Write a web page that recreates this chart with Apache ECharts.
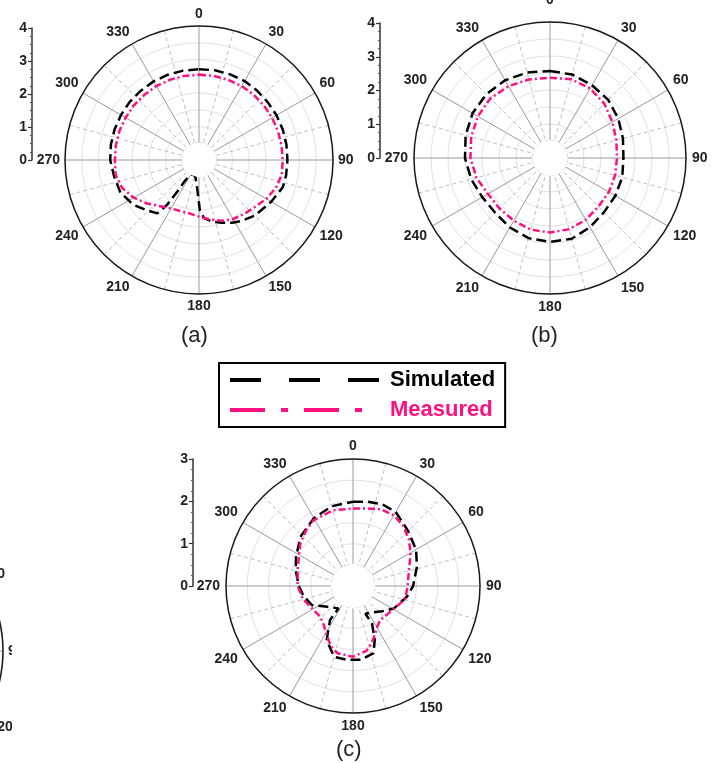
<!DOCTYPE html>
<html>
<head>
<meta charset="utf-8">
<script src="https://cdn.jsdelivr.net/npm/echarts@6/dist/echarts.min.js"></script>
<style>
  html, body { margin: 0; padding: 0; background: #fff; }
  #chart { width: 717px; height: 763px; }
</style>
</head>
<body>
<div id="chart"></div>
<script>
// ---- Radiation patterns (radius value, angle in degrees) ----
// Panel (a)
const simA_angle = [0,10,20,30,40,50,60,70,80,90,100,108,120,135,145,152,160,168,175,179,186,192,202,211,214,214.5,215.5,218,226,236,248,259,270,280,290,300,310,320,330,340,350,360];
const simA_value = [2.71,2.72,2.72,2.72,2.70,2.68,2.67,2.66,2.65,2.64,2.64,2.63,2.49,2.35,2.22,2.12,1.99,1.88,1.74,1.50,0.70,0.52,0.46,0.52,0.75,1.13,1.65,2.02,2.16,2.38,2.54,2.58,2.65,2.67,2.68,2.69,2.70,2.70,2.71,2.71,2.71,2.71];
const meaA_angle = [0,10,20,30,40,50,60,70,80,90,100,110,120,130,140,150,160,170,180,190,200,210,220,230,240,250,260,270,280,290,300,310,320,330,340,350,360];
const meaA_value = [2.55,2.55,2.55,2.55,2.54,2.53,2.52,2.51,2.50,2.50,2.51,2.44,2.32,2.18,2.10,2.04,1.93,1.80,1.69,1.62,1.62,1.67,1.80,2.02,2.25,2.44,2.53,2.51,2.52,2.53,2.53,2.54,2.54,2.55,2.55,2.55,2.55];

// Panel (b)
const simB_angle = [0,15,30,45,60,75,90,105,120,135,150,165,180,195,210,225,240,255,270,285,300,315,330,345,360];
const simB_value = [2.56,2.54,2.47,2.42,2.32,2.22,2.16,2.20,2.22,2.25,2.35,2.46,2.47,2.44,2.36,2.28,2.30,2.40,2.50,2.57,2.63,2.65,2.64,2.60,2.56];
const meaB_angle = [0,15,30,45,60,75,90,105,120,135,150,165,180,195,210,225,240,255,270,285,300,315,330,345,360];
const meaB_value = [2.36,2.40,2.36,2.26,2.12,2.02,1.97,1.98,2.00,2.02,2.10,2.17,2.19,2.18,2.13,2.10,2.11,2.24,2.34,2.40,2.45,2.48,2.44,2.39,2.36];

// Panel (c)
const simC_angle = [0,10,20,30,45,60,73,90,101,119,131,144,156,153,158,163,174,185,195,206,214,213,231,245,258,270,285,297,313,330,345,360];
const simC_value = [1.99,2.02,2.05,2.02,1.84,1.72,1.58,1.42,1.30,1.10,0.91,0.77,0.72,0.99,1.37,1.66,1.75,1.75,1.73,1.42,0.97,0.63,0.78,1.07,1.19,1.28,1.40,1.51,1.70,1.85,1.95,1.99];
const meaC_angle = [0,10,20,30,40,50,60,70,80,90,103,111,119,130,141,148,155,162,168,180,193,200,207,217,227,239,255,270,289,300,309,320,329,345,360];
const meaC_value = [1.83,1.86,1.93,1.93,1.85,1.72,1.57,1.42,1.33,1.29,1.27,1.18,1.10,1.05,1.03,1.10,1.24,1.42,1.56,1.67,1.63,1.52,1.34,1.15,1.06,1.09,1.22,1.31,1.38,1.47,1.60,1.72,1.81,1.85,1.83];

// Radial scale maxima of each panel
const radialMax = [4, 4, 3, 4];

const FONT = "'Liberation Sans', Arial, sans-serif";
const PINK = '#ff1080';

function pairs(values, angles) {
  return values.map((v, i) => [v, angles[i]]);
}

// Polar frames: [cx, cy, outer radius, label margin]
const frames = [
  [199, 160, 134, 5],
  [550, 158, 136, 6],
  [353, 586, 127, 6],
  [-131, 651, 134, 5]
];
const innerRadius = frames.map((f, i) => f[2] * 0.5 / radialMax[i]);

const polar = frames.map((f, i) => ({
  center: [f[0], f[1]],
  radius: [innerRadius[i], f[2]]
}));

const angleAxis = frames.map((f, i) => {
  const label = {
    margin: f[3], color: '#222', fontSize: 14, fontWeight: 'bold', fontFamily: FONT
  };
  if (i === 1) {
    label.formatter = v => (v === 0 ? '{up|0}' : String(v));
    label.rich = { up: { padding: [0, 0, 9, 0], color: '#222', fontSize: 14, fontWeight: 'bold', fontFamily: FONT } };
  }
  return {
    polarIndex: i, type: 'value', min: 0, max: 360, interval: 30,
    startAngle: 90, clockwise: true,
    axisLine: { show: true, lineStyle: { color: '#1a1a1a', width: 1.5 } },
    axisTick: { show: false },
    minorTick: { show: false, splitNumber: 2 },
    axisLabel: label,
    splitLine: { show: true, lineStyle: { color: '#9a9a9a', width: 1 } },
    minorSplitLine: { show: true, lineStyle: { color: '#c0c0c0', width: 1, type: [4, 3] } }
  };
});

const ringColors = ['rgba(0,0,0,0)', '#e2e2e2', '#e2e2e2', '#e2e2e2', '#e2e2e2', '#e2e2e2', '#e2e2e2', '#e2e2e2', '#e2e2e2'];
const radiusAxis = frames.map((f, i) => ({
  polarIndex: i, type: 'value', min: 0.5, max: radialMax[i], interval: 0.5,
  axisLine: { show: false }, axisTick: { show: false }, axisLabel: { show: false },
  splitLine: { show: true, lineStyle: { color: ringColors, width: 1 } }
}));

// Vertical radial scale bars beside each panel: [left, top, height]
const bars = [
  [32, 28, 132],
  [380, 23, 135],
  [193, 459, 127]
];
const grid = bars.map(b => ({ left: b[0], top: b[1], height: b[2], width: 10 }));
const xAxis = bars.map((b, i) => ({ gridIndex: i, type: 'value', show: false, min: 0, max: 1 }));
const yAxis = bars.map((b, i) => ({
  gridIndex: i, type: 'value', position: 'left', min: 0, max: radialMax[i], interval: 1,
  axisLine: { show: true, lineStyle: { color: '#333', width: 1.5 } },
  axisTick: { show: true, inside: false, length: 4, lineStyle: { color: '#333', width: 1.2 } },
  minorTick: { show: true, splitNumber: 4, length: 2, lineStyle: { color: '#555', width: 1 } },
  axisLabel: { margin: 5, color: '#222', fontSize: 14, fontWeight: 'bold', fontFamily: FONT },
  splitLine: { show: false }
}));

const simStyle = { color: '#000', width: 2.5, type: [10, 5] };
const meaStyle = { color: PINK, width: 2.5, type: [7, 3, 2, 3] };

function curve(name, idx, values, angles, style) {
  return {
    type: 'line', name: name, coordinateSystem: 'polar', polarIndex: idx,
    data: pairs(values, angles), symbol: 'none', smooth: false, silent: true,
    lineStyle: style, itemStyle: { color: style.color }, z: 3
  };
}

const series = [
  curve('Simulated', 0, simA_value, simA_angle, simStyle),
  curve('Measured', 0, meaA_value, meaA_angle, meaStyle),
  curve('Simulated', 1, simB_value, simB_angle, simStyle),
  curve('Measured', 1, meaB_value, meaB_angle, meaStyle),
  curve('Simulated', 2, simC_value, simC_angle, simStyle),
  curve('Measured', 2, meaC_value, meaC_angle, meaStyle)
];

const panelTitle = (text, left, top) => ({
  text: text, left: left, top: top, padding: 0,
  textStyle: { fontSize: 22, fontWeight: 'normal', color: '#222', fontFamily: FONT }
});

// Blank centre of each pattern (hides the inner edge of the angle axis ring)
const holes = frames.slice(0, 3).map((f, i) => ({
  type: 'circle', shape: { cx: f[0], cy: f[1], r: innerRadius[i] + 1 },
  style: { fill: '#fff' }, z: 1, silent: true
}));

const option = {
  animation: false,
  backgroundColor: '#fff',
  title: [
    panelTitle('(a)', 181, 325),
    panelTitle('(b)', 531, 325),
    panelTitle('(c)', 336, 739)
  ],
  legend: {
    orient: 'vertical', left: 219, top: 363,
    padding: [6, 10, 6, 9], itemGap: 8, itemWidth: 155, itemHeight: 20,
    borderColor: '#000', borderWidth: 2, backgroundColor: '#fff',
    selectedMode: false,
    textStyle: { fontSize: 22, fontWeight: 'bold', fontFamily: FONT },
    data: [
      { name: 'Simulated', itemStyle: { opacity: 0 },
        lineStyle: { color: '#000', width: 4, type: [31, 28, 31, 28, 31, 30] },
        textStyle: { color: '#000' } },
      { name: 'Measured', itemStyle: { opacity: 0 },
        lineStyle: { color: PINK, width: 4, type: [35, 16, 7, 16, 35, 16, 7, 30] },
        textStyle: { color: PINK } }
    ]
  },
  polar: polar,
  angleAxis: angleAxis,
  radiusAxis: radiusAxis,
  grid: grid,
  xAxis: xAxis,
  yAxis: yAxis,
  graphic: holes.concat([
    { type: 'rect', shape: { x: 12, y: 540, width: 130, height: 223 }, style: { fill: '#fff' }, z: 50, silent: true }
  ]),
  series: series
};

const chart = echarts.init(document.getElementById('chart'), null, { renderer: 'canvas' });
chart.setOption(option);
</script>
</body>
</html>
